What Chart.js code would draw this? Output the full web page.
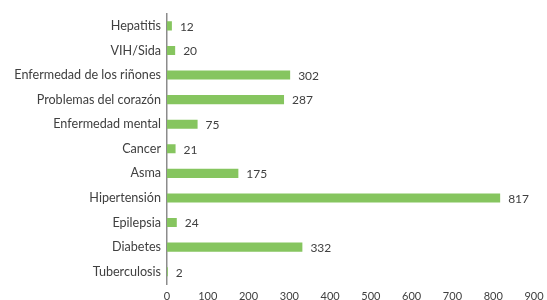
<!DOCTYPE html>
<html>
<head>
<meta charset="utf-8">
<script src="https://cdn.jsdelivr.net/npm/chart.js@4.4.0/dist/chart.umd.min.js"></script>
<style>
  html, body { margin: 0; padding: 0; background: #fff; }
  #wrap { width: 547px; height: 300px; }
</style>
</head>
<body>
<div id="wrap"><canvas id="chart"></canvas></div>
<script>
const categories = ['Hepatitis', 'VIH/Sida', 'Enfermedad de los riñones', 'Problemas del corazón',
  'Enfermedad mental', 'Cancer', 'Asma', 'Hipertensión', 'Epilepsia', 'Diabetes', 'Tuberculosis'];
const values = [12, 20, 302, 287, 75, 21, 175, 817, 24, 332, 2];
const xMax = 900;
const xStep = 100;

const FONT = 'Lato, "Open Sans", sans-serif';
const TEXT = '#404040';

// value labels to the right of every bar
const valueLabels = {
  id: 'valueLabels',
  afterDatasetsDraw(chart) {
    const ctx = chart.ctx;
    const meta = chart.getDatasetMeta(0);
    ctx.save();
    ctx.font = '12px ' + FONT;
    ctx.fillStyle = TEXT;
    ctx.textBaseline = 'middle';
    ctx.textAlign = 'left';
    meta.data.forEach(function(bar, i) {
      ctx.fillText(String(values[i]), bar.x + 8, bar.y + 1);
    });
    ctx.restore();
  }
};

const chart = new Chart(document.getElementById('chart'), {
  type: 'bar',
  data: {
    labels: categories,
    datasets: [{
      data: values,
      backgroundColor: '#86c55f',
      borderWidth: 0,
      categoryPercentage: 0.37,
      barPercentage: 1
    }]
  },
  options: {
    indexAxis: 'y',
    responsive: true,
    maintainAspectRatio: false,
    animation: false,
    layout: { padding: { top: 7, right: 13, bottom: 0, left: 0 } },
    plugins: {
      legend: { display: false },
      tooltip: { enabled: false }
    },
    scales: {
      x: {
        min: 0,
        max: xMax,
        grid: { display: false, drawTicks: false, tickLength: 0 },
        border: { display: false },
        ticks: {
          stepSize: xStep,
          color: TEXT,
          font: { family: FONT, size: 11 },
          padding: 6,
          maxRotation: 0
        },
        afterFit(scale) {
          scale.height = 16;
          scale.paddingLeft = 0;
          scale.paddingRight = 0;
        }
      },
      y: {
        grid: { display: false, drawTicks: false },
        border: { display: true, color: '#8c8c8c', width: 1.5 },
        ticks: {
          color: TEXT,
          font: { family: FONT, size: 12.6 },
          padding: 6,
          autoSkip: false
        },
        afterFit(scale) { scale.width = 167; }
      }
    }
  },
  plugins: [valueLabels]
});
</script>
</body>
</html>
